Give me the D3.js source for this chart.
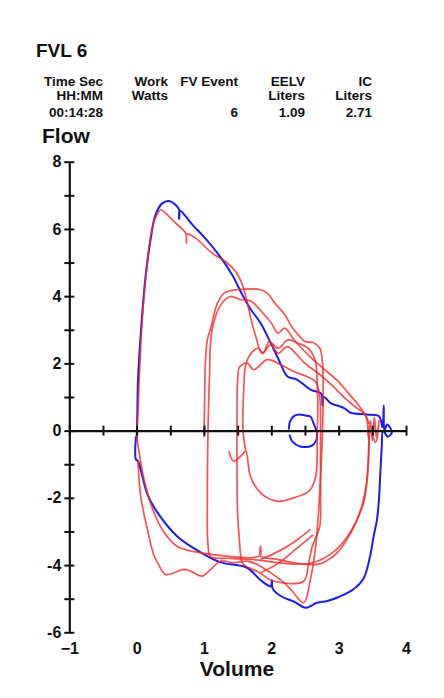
<!DOCTYPE html>
<html><head><meta charset="utf-8">
<script src="https://cdn.jsdelivr.net/npm/d3@7"></script>
<style>
html,body{margin:0;padding:0;background:#fff;}
svg{display:block;font-family:"Liberation Sans",Arial,sans-serif;}
</style></head><body>
<svg id="c" width="444" height="698"></svg>
<script>
// ---------- data ----------
const title = "FVL 6";
const headerNames  = ["Time Sec", "Work", "FV Event", "EELV", "IC"];
const headerUnits  = ["HH:MM", "Watts", "", "Liters", "Liters"];
const headerValues = ["00:14:28", "", "6", "1.09", "2.71"];

const xLabel = "Volume";
const yLabel = "Flow";
const xTickValues = [-1, -0.5, 0, 0.5, 1, 1.5, 2, 2.5, 3, 3.5, 4];
const xTickLabels = [-1, 0, 1, 2, 3, 4];
const yTickValues = [-6, -5, -4, -3, -2, -1, 0, 1, 2, 3, 4, 5, 6, 7, 8];
const yTickLabels = [-6, -4, -2, 0, 2, 4, 6, 8];

// blue: maximal flow-volume loop [volume, flow]
const blueLoop = [[0.0,-0.3],[0.01,0.5],[0.02,1.5],[0.06,2.85],[0.13,4.54],[0.21,5.72],[0.28,6.42],[0.38,6.76],[0.48,6.83],[0.58,6.71],[0.63,6.57],[0.63,6.3],[0.64,6.55],[0.83,6.12],[1.02,5.72],[1.22,5.23],[1.42,4.63],[1.57,4.04],[1.69,3.62],[1.84,3.2],[1.99,2.61],[2.11,2.11],[2.24,1.61],[2.38,1.52],[2.58,1.22],[2.74,1.1],[2.76,0.75],[2.78,1.0],[2.88,0.82],[3.08,0.67],[3.18,0.53],[3.42,0.48],[3.6,0.43],[3.65,0.1],[3.67,0.75],[3.68,0.0],[3.72,0.18],[3.79,-0.05],[3.73,-0.18],[3.66,0.0],[3.64,-0.5],[3.62,-1.2],[3.6,-2.0],[3.57,-2.64],[3.52,-3.14],[3.46,-3.8],[3.37,-4.4],[3.22,-4.72],[3.0,-4.95],[2.83,-5.07],[2.68,-5.12],[2.51,-5.27],[2.35,-5.1],[2.14,-4.92],[2.02,-4.7],[2.01,-4.45],[1.99,-4.63],[1.84,-4.45],[1.64,-4.08],[1.25,-3.92],[0.95,-3.62],[0.6,-3.14],[0.28,-2.35],[0.16,-1.9],[0.06,-1.16],[0.02,-0.9],[-0.01,-0.86],[-0.01,-0.17]];
const blueSmallLoop = [[2.26,0.03],[2.28,0.28],[2.34,0.44],[2.42,0.48],[2.5,0.45],[2.58,0.42],[2.63,0.2],[2.68,-0.1],[2.66,-0.32],[2.6,-0.45],[2.43,-0.47],[2.31,-0.32],[2.27,-0.12]];

// red: tidal / exercise breaths [volume, flow]
const redBreathA = [[0.0,-0.2],[0.02,0.6],[0.04,1.6],[0.07,2.9],[0.11,4.0],[0.16,5.03],[0.23,6.02],[0.3,6.42],[0.36,6.57],[0.43,6.47],[0.58,6.17],[0.73,5.87],[0.74,5.58],[0.75,5.85],[0.88,5.72],[1.12,5.28],[1.32,5.03],[1.47,4.73],[1.57,4.34],[1.64,3.84],[1.7,3.3],[1.77,2.8],[1.86,2.31],[1.99,2.55],[2.1,2.3],[2.24,2.5],[2.36,2.3],[2.5,2.0],[2.7,1.7],[2.9,1.35],[3.1,0.95],[3.25,0.7],[3.38,0.5],[3.42,0.35],[3.44,-0.2],[3.47,0.3],[3.5,-0.3],[3.53,0.4],[3.56,-0.2],[3.6,0.3],[3.55,-0.35],[3.47,0.0],[3.45,-0.6],[3.42,-1.5],[3.35,-2.2],[3.25,-2.75],[3.12,-3.25],[2.98,-3.63],[2.8,-3.9],[2.68,-3.98],[2.33,-3.93],[2.09,-3.83],[1.84,-3.73],[1.84,-3.44],[1.83,-3.72],[1.1,-3.68],[0.6,-3.44],[0.4,-3.0],[0.26,-2.45],[0.11,-1.46],[0.03,-0.56],[0.0,-0.2]];
const redBreathB = [[1.0,-0.2],[1.01,1.0],[1.02,2.0],[1.05,2.7],[1.1,3.05],[1.2,3.79],[1.3,4.09],[1.49,4.19],[1.84,4.19],[1.94,4.09],[2.05,3.8],[2.2,3.45],[2.3,3.1],[2.4,2.85],[2.5,2.65],[2.62,2.62],[2.72,2.45],[2.76,2.0],[2.77,1.0],[2.76,0.0],[2.74,-1.0],[2.7,-2.45],[2.65,-3.6],[2.58,-4.43],[2.48,-5.12],[2.3,-4.75],[2.19,-4.52],[1.99,-4.23],[1.79,-3.98],[1.64,-3.88],[1.44,-3.93],[1.25,-3.88],[1.1,-4.13],[0.97,-4.33],[0.8,-4.18],[0.7,-4.13],[0.43,-4.28],[0.33,-4.0],[0.26,-3.73],[0.16,-2.94],[0.06,-1.95],[0.02,-0.9]];
const redBreathC = [[3.45,0.0],[3.43,-1.2],[3.37,-2.15],[3.18,-3.0],[2.93,-3.6],[2.58,-3.95],[2.2,-3.95],[1.8,-3.85],[1.4,-3.8],[1.1,-3.75],[1.06,-3.4],[1.05,-2.0],[1.06,0.0],[1.08,1.5],[1.12,3.0],[1.25,3.74],[1.39,3.99],[1.54,3.9],[1.7,3.85],[1.85,3.55],[2.0,3.2],[2.1,2.9],[2.2,3.05],[2.32,2.75],[2.45,2.45],[2.6,2.15],[2.8,1.8],[3.0,1.45],[3.15,1.1],[3.3,0.75],[3.4,0.45],[3.45,0.2]];
const redBreathD = [[1.55,-3.85],[1.5,-2.5],[1.49,-1.0],[1.49,0.5],[1.5,1.5],[1.53,1.9],[1.64,2.01],[1.74,1.81],[1.94,2.11],[2.14,1.96],[2.33,1.76],[2.53,1.61],[2.66,1.45],[2.72,1.0],[2.73,0.0],[2.73,-1.0],[2.73,-2.0],[2.72,-2.84],[2.6,-3.5],[2.55,-4.0],[2.48,-4.48],[2.04,-4.48],[1.8,-4.2],[1.6,-4.0],[1.55,-3.85]];
const redBreathE = [[1.62,-0.61],[1.58,0.0],[1.59,1.2],[1.62,1.95],[1.7,2.3],[1.8,2.45],[1.88,2.3],[1.97,2.65],[2.1,2.45],[2.25,2.7],[2.4,2.6],[2.55,2.45],[2.65,2.1],[2.68,1.5],[2.69,0.5],[2.68,0.0],[2.66,-1.36],[2.56,-1.8],[2.33,-2.0],[2.09,-2.1],[1.84,-1.85],[1.69,-1.36],[1.62,-0.61],[1.57,-0.71],[1.44,-0.91],[1.37,-0.61]];
const redDiagonals = [[[1.84,-3.83],[2.1,-3.6],[2.35,-3.3],[2.58,-2.94]],[[1.84,-4.23],[2.1,-3.95],[2.35,-3.55],[2.62,-3.1]]];

const blueSeries = [blueLoop, blueSmallLoop];
const redSeries = [redBreathA, redBreathB, redBreathC, redBreathD, redBreathE, ...redDiagonals];

// ---------- drawing ----------
const svg = d3.select("#c");
const ink = "#111";
const x = d3.scaleLinear().domain([-1, 4]).range([69.3, 406]);
const y = d3.scaleLinear().domain([-6, 8]).range([632.3, 161.7]);

// header
svg.append("text").attr("x", 36).attr("y", 57).attr("font-size", 19).attr("font-weight", "bold")
  .attr("fill", ink).text(title);
const colRight = [103, 168, 238, 305, 372];
const rowBase = [86, 99.5, 117];
[headerNames, headerUnits, headerValues].forEach((row, r) => {
  row.forEach((t, i) => {
    if (!t) return;
    svg.append("text").attr("x", colRight[i]).attr("y", rowBase[r])
      .attr("text-anchor", "end").attr("font-size", 13.5).attr("font-weight", "bold")
      .attr("fill", ink).text(t);
  });
});

// axis titles
svg.append("text").attr("x", 42).attr("y", 143).attr("font-size", 21).attr("font-weight", "bold")
  .attr("fill", ink).text(yLabel);
svg.append("text").attr("x", 237).attr("y", 676).attr("text-anchor", "middle").attr("font-size", 21)
  .attr("font-weight", "bold").attr("fill", ink).text(xLabel);

// curves
const line = d3.line().x(d => x(d[0])).y(d => y(d[1])).curve(d3.curveCatmullRom.alpha(0.5));
svg.append("g").selectAll("path").data(blueSeries).join("path")
  .attr("d", line).attr("fill", "none").attr("stroke", "#1c1cf0").attr("stroke-width", 2)
  .attr("stroke-linejoin", "round");
svg.append("g").selectAll("path").data(redSeries).join("path")
  .attr("d", line).attr("fill", "none").attr("stroke", "#f02828").attr("stroke-opacity", 0.8)
  .attr("stroke-width", 1.7).attr("stroke-linejoin", "round");

// y axis
const yAxis = svg.append("g").attr("transform", `translate(${x(-1)},0)`)
  .call(d3.axisLeft(y).tickValues(yTickValues).tickSizeOuter(0).tickSizeInner(5).tickPadding(3)
    .tickFormat(d => yTickLabels.includes(d) ? d : ""));
yAxis.select(".domain").attr("stroke", ink).attr("stroke-width", 2.2);
yAxis.selectAll(".tick line").attr("x1", 5).attr("x2", -5).attr("stroke", ink).attr("stroke-width", 2);
yAxis.selectAll(".tick text").attr("font-size", 16).attr("font-weight", "bold").attr("fill", ink)
  .attr("font-family", "Liberation Sans, Arial, sans-serif");

// x axis (line and ticks at flow = 0)
const xAxis = svg.append("g").attr("transform", `translate(0,${y(0)})`)
  .call(d3.axisBottom(x).tickValues(xTickValues).tickSizeOuter(0).tickSizeInner(5).tickFormat(""));
xAxis.select(".domain").attr("stroke", ink).attr("stroke-width", 2.2);
xAxis.selectAll(".tick line").attr("y1", -5).attr("y2", 5).attr("stroke", ink).attr("stroke-width", 2);

// x tick labels at the bottom
const xLab = svg.append("g").attr("transform", `translate(0,${y(-6)})`)
  .call(d3.axisBottom(x).tickValues(xTickLabels).tickSize(0).tickPadding(10).tickFormat(d3.format("d")));
xLab.select(".domain").remove();
xLab.selectAll(".tick text").attr("font-size", 16).attr("font-weight", "bold").attr("fill", ink)
  .attr("font-family", "Liberation Sans, Arial, sans-serif");
</script>
</body></html>
